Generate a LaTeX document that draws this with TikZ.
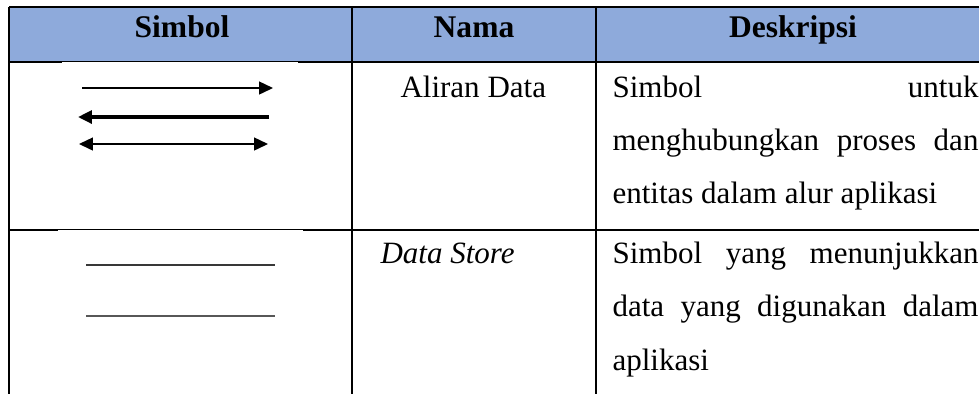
\documentclass[tikz,border=0pt]{standalone}
\usepackage{fontspec}
\setmainfont{Liberation Serif}
\usetikzlibrary{arrows.meta}
\definecolor{headblue}{HTML}{8EAADB}
\newlength\pxu
\setlength\pxu{0.387pt}
\begin{document}
\begin{tikzpicture}[x=0.387pt,y=-0.387pt,
  rule/.style={draw=black,line width=0.85pt},
  thinrule/.style={draw=black,line width=0.45pt},
  headtext/.style={anchor=base,inner sep=0pt,font=\fontsize{12.2}{14}\selectfont\bfseries},
  celltext/.style={anchor=base west,inner sep=0pt,font=\fontsize{12}{14}\selectfont},
  tip/.style={Triangle[length=5.4pt,width=5pt]},
  flow/.style={line width=0.6pt,-{Triangle[length=5.4pt,width=5pt]}},
  storeline/.style={line width=1pt,line cap=butt}]
\useasboundingbox (0,0) rectangle (979,394);

% header band
\fill[headblue] (9,7) rectangle (979,62);

% grid coordinates
\coordinate (tl) at (9,7);     \coordinate (tr) at (979,7);
\coordinate (hl) at (9,62);    \coordinate (hr) at (979,62);
\coordinate (ha) at (62,62);   \coordinate (hb) at (298,62);
\coordinate (rl) at (9,230);   \coordinate (rr) at (979,230);
\coordinate (ra) at (58,230);  \coordinate (rb) at (303,230);
\coordinate (v0t) at (9,7);    \coordinate (v0b) at (9,394);
\coordinate (v1t) at (352,7);  \coordinate (v1b) at (352,394);
\coordinate (v2t) at (596,7);  \coordinate (v2b) at (596,394);

% outer and inner rules
\draw[rule] (tl) -- (tr);
\draw[rule] (hl) -- (ha);
\draw[thinrule] ([yshift=0.2pt]ha) -- ([yshift=0.2pt]hb);
\draw[rule] (hb) -- (hr);
\draw[rule] (rl) -- (ra);
\draw[thinrule] ([yshift=0.2pt]ra) -- ([yshift=0.2pt]rb);
\draw[rule] (rb) -- (rr);
\draw[rule] (v0t) -- (v0b);
\draw[rule] (v1t) -- (v1b);
\draw[rule] (v2t) -- (v2b);

% header labels
\node[headtext] (hsym) at (182,37) {Simbol};
\node[headtext] (hname) at (474,37) {Nama};
\node[headtext] (hdesc) at (793,37) {Deskripsi};

% data flow symbols
\coordinate (a1s) at (82,88);  \coordinate (a1e) at (273,88);
\coordinate (a2s) at (269,117); \coordinate (a2e) at (78,117);
\coordinate (a3s) at (79,144); \coordinate (a3e) at (268,144);
\draw[flow] (a1s) -- (a1e);
\draw[flow,line width=1.3pt] (a2s) -- (a2e);
\draw[flow,{Triangle[length=5.4pt,width=5pt]}-{Triangle[length=5.4pt,width=5pt]}] (a3s) -- (a3e);

% data store symbol
\coordinate (s1a) at (86,265); \coordinate (s1b) at (275,265);
\coordinate (s2a) at (86,316); \coordinate (s2b) at (275,316);
\draw[storeline,draw=black!78] (s1a) -- (s1b);
\draw[storeline,draw=black!66] (s2a) -- (s2b);

% row 1 text
\node[celltext] (n1) at (400,97) {Aliran Data};
\node[celltext] (d1a) at (612,97) {\makebox[366\pxu][s]{Simbol untuk}};
\node[celltext] (d1b) at (612,150) {\makebox[366\pxu][s]{menghubungkan proses dan}};
\node[celltext] (d1c) at (612,203) {entitas dalam alur aplikasi};

% row 2 text
\node[celltext] (n2) at (380,263) {\itshape Data Store};
\node[celltext] (d2a) at (612,263) {\makebox[366\pxu][s]{Simbol yang menunjukkan}};
\node[celltext] (d2b) at (612,316) {\makebox[366\pxu][s]{data yang digunakan dalam}};
\node[celltext] (d2c) at (612,370) {aplikasi};
\end{tikzpicture}
\end{document}
